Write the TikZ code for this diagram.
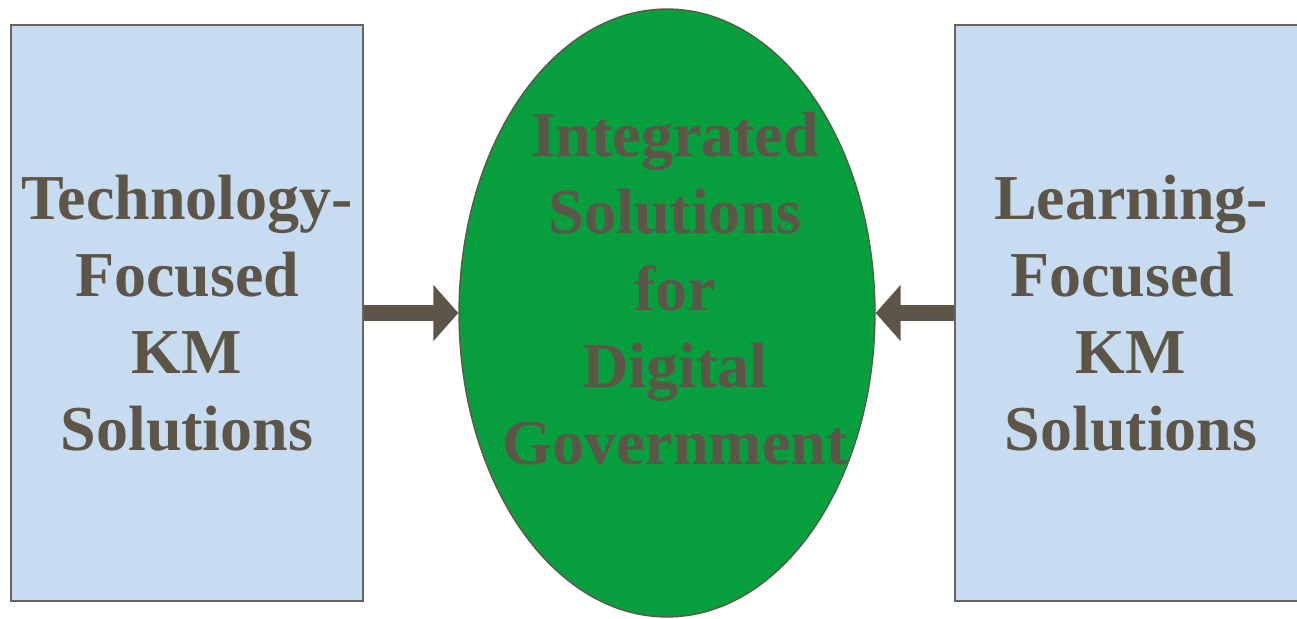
\documentclass[tikz,border=0pt]{standalone}
\usepackage{fontspec}
\setmainfont{Liberation Serif}
\usetikzlibrary{shapes.geometric,arrows.meta}
\definecolor{boxblue}{HTML}{C7DCF0}
\definecolor{boxedge}{HTML}{6A655C}
\definecolor{ovalgreen}{HTML}{079F3E}
\definecolor{txt}{HTML}{5E5549}
\tikzset{
  kmbox/.style={draw=boxedge, line width=2pt, fill=boxblue, minimum width=352pt, minimum height=576pt, inner sep=0pt,
    text=txt, font=\fontsize{64}{77}\selectfont\bfseries, align=center},
  oval/.style={ellipse, draw=txt, line width=1.3pt, fill=ovalgreen, minimum width=416pt, minimum height=608pt, inner sep=0pt},
  bigtext/.style={text=txt, font=\fontsize{64}{77}\selectfont\bfseries, align=center, inner sep=0pt},
  fat/.style={draw=txt, line width=16pt, -{Triangle[length=25pt,width=55pt]}}
}
\begin{document}
\begin{tikzpicture}[x=1pt,y=-1pt]
\useasboundingbox (0,0) rectangle (1297,618);
\fill[white] (0,0) rectangle (1297,618);
\begin{scope}
\clip (0,0) rectangle (1297,618);
\node[kmbox] (left) at (187,313) {Technology-\\Focused\\KM\\Solutions};
\node[kmbox] (right) at (1131,313) {Learning-\\Focused\rule{18pt}{0pt}\\KM\\Solutions};
\end{scope}
\node[oval] (mid) at (667,313) {};
\node[bigtext] (midtext) at (675,289) {Integrated\\Solutions\\for\\Digital\\Government};
\draw[fat] (left.east) -- (mid.west);
\draw[fat] (right.west) -- (mid.east);
\end{tikzpicture}
\end{document}
